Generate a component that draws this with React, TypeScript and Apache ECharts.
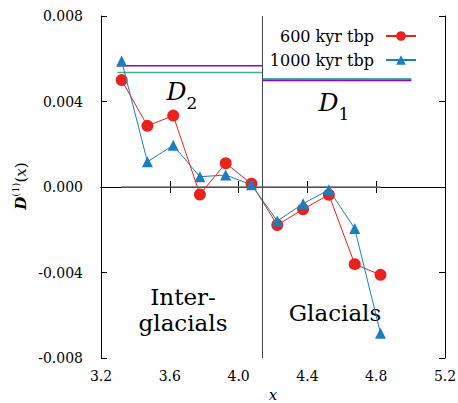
import React, { useEffect, useRef } from "react";
import * as echarts from "echarts";

const xs = [3.32, 3.47, 3.62, 3.775, 3.925, 4.075, 4.225, 4.375, 4.525, 4.675, 4.825];
const red600 = [0.0050, 0.00286, 0.00334, -0.00035, 0.00111, 0.00015, -0.00178, -0.00104, -0.00036, -0.00361, -0.00411];
const blue1000 = [0.00589, 0.00118, 0.00195, 0.00048, 0.00056, 0.0001, -0.00159, -0.00078, -0.00013, -0.00194, -0.00684];
const d2Purple = [[3.295, 0.00567], [4.14, 0.00567]];
const d2Green = [[3.295, 0.00536], [4.14, 0.00536]];
const d1Green = [[4.14, 0.00505], [5.005, 0.00505]];
const d1Purple = [[4.14, 0.00498], [5.005, 0.00498]];
const zeroLine = [[3.32, 0], [4.825, 0]];
const boundaryX = 4.14;
const xTicks = { min: 3.2, max: 5.2, step: 0.4 };
const yTicks = { min: -0.008, max: 0.008, step: 0.004 };

const FONT = "DejaVu Serif";

export default function App() {
  const ref = useRef<HTMLDivElement>(null);
  useEffect(() => {
    document.body.style.margin = "0";
    const chart = echarts.init(ref.current!, null, { renderer: "svg" });
    const axisCommon = {
      axisLine: { show: true, lineStyle: { color: "#000", width: 1 } },
      axisTick: { show: true, inside: true, length: 6, lineStyle: { color: "#000" } },
      splitLine: { show: false },
    };
    const plain = (data: number[][], color: string, width = 1.5) => ({
      type: "line",
      data,
      showSymbol: false,
      symbol: "none",
      lineStyle: { color, width },
      silent: true,
      z: 1,
    });
    const sub = {
      d: { fontFamily: FONT, fontSize: 25, fontStyle: "italic", verticalAlign: "top", lineHeight: 32 },
      s: { fontFamily: FONT, fontSize: 17, verticalAlign: "bottom", lineHeight: 32 },
    };
    chart.setOption({
      animation: false,
      textStyle: { fontFamily: FONT },
      grid: { left: 101, right: 13, top: 16, bottom: 45, outerBoundsMode: "none", containLabel: false },
      legend: {
        orient: "vertical",
        right: 36,
        top: 23,
        align: "right",
        itemWidth: 30,
        itemHeight: 12,
        itemGap: 8,
        textStyle: { fontFamily: FONT, fontSize: 16, color: "#000", padding: [0, 7, 0, 0] },
        data: ["600 kyr tbp", "1000 kyr tbp"],
      },
      xAxis: [
        {
          type: "value",
          min: xTicks.min,
          max: xTicks.max,
          interval: xTicks.step,
          ...axisCommon,
          axisLabel: {
            fontFamily: FONT,
            fontSize: 14,
            color: "#000",
            margin: 11,
            formatter: (v: number) => v.toFixed(1),
          },
          name: "x",
          nameLocation: "middle",
          nameGap: 27,
          nameTextStyle: { fontFamily: FONT, fontSize: 15, fontStyle: "italic", color: "#000" },
        },
        {
          type: "value",
          position: "top",
          min: xTicks.min,
          max: xTicks.max,
          interval: xTicks.step,
          ...axisCommon,
          axisLabel: { show: false },
        },
      ],
      yAxis: [
        {
          type: "value",
          min: yTicks.min,
          max: yTicks.max,
          interval: yTicks.step,
          ...axisCommon,
          axisLabel: {
            fontFamily: FONT,
            fontSize: 14,
            color: "#000",
            margin: 18,
            formatter: (v: number) => v.toFixed(3),
          },
        },
        {
          type: "value",
          position: "right",
          min: yTicks.min,
          max: yTicks.max,
          interval: yTicks.step,
          ...axisCommon,
          axisLabel: { show: false },
        },
      ],
      graphic: [
        {
          type: "text",
          x: 19,
          y: 186,
          rotation: Math.PI / 2,
          style: {
            text: "{d|D}{s|(1)}{n|(}{i|x}{n|)}",
            align: "center",
            verticalAlign: "middle",
            rich: {
              d: { fontFamily: FONT, fontSize: 15, fontStyle: "italic", fontWeight: "bold", verticalAlign: "bottom", lineHeight: 18 },
              s: { fontFamily: FONT, fontSize: 10, verticalAlign: "top", lineHeight: 18 },
              n: { fontFamily: FONT, fontSize: 15, verticalAlign: "bottom", lineHeight: 18 },
              i: { fontFamily: FONT, fontSize: 15, fontStyle: "italic", verticalAlign: "bottom", lineHeight: 18 },
            },
          },
        },
        {
          type: "text",
          x: 182,
          y: 95,
          style: { text: "{d|D}{s|2}", align: "center", verticalAlign: "middle", rich: sub },
        },
        {
          type: "text",
          x: 334,
          y: 106,
          style: { text: "{d|D}{s|1}", align: "center", verticalAlign: "middle", rich: sub },
        },
        {
          type: "text",
          x: 183,
          y: 310,
          style: {
            text: "Inter-\nglacials",
            align: "center",
            verticalAlign: "middle",
            fontFamily: FONT,
            fontSize: 23,
            lineHeight: 26,
            fill: "#000",
          },
        },
        {
          type: "text",
          x: 335,
          y: 313,
          style: {
            text: "Glacials",
            align: "center",
            verticalAlign: "middle",
            fontFamily: FONT,
            fontSize: 23,
            fill: "#000",
          },
        },
      ],
      series: [
        plain(d2Purple, "#9400d3"),
        plain(d2Green, "#3fb391"),
        plain(d1Green, "#3fb391", 2),
        plain(d1Purple, "#9400d3", 1.5),
        {
          ...plain(zeroLine, "#6e6e6e", 1.5),
          markLine: {
            silent: true,
            symbol: "none",
            label: { show: false },
            lineStyle: { color: "#444", width: 1, type: "solid" },
            data: [{ xAxis: boundaryX }],
          },
        },
        {
          name: "600 kyr tbp",
          type: "line",
          data: xs.map((x, i) => [x, red600[i]]),
          symbol: "circle",
          symbolSize: 12,
          lineStyle: { color: "#e8231b", width: 1 },
          itemStyle: { color: "#e8231b" },
          z: 3,
        },
        {
          name: "1000 kyr tbp",
          type: "line",
          data: xs.map((x, i) => [x, blue1000[i]]),
          symbol: "triangle",
          symbolSize: 11,
          lineStyle: { color: "#1b7ec0", width: 1 },
          itemStyle: { color: "#1b7ec0" },
          z: 4,
        },
      ],
    });
    return () => chart.dispose();
  }, []);
  return <div ref={ref} style={{ width: 458, height: 403 }} />;
}
